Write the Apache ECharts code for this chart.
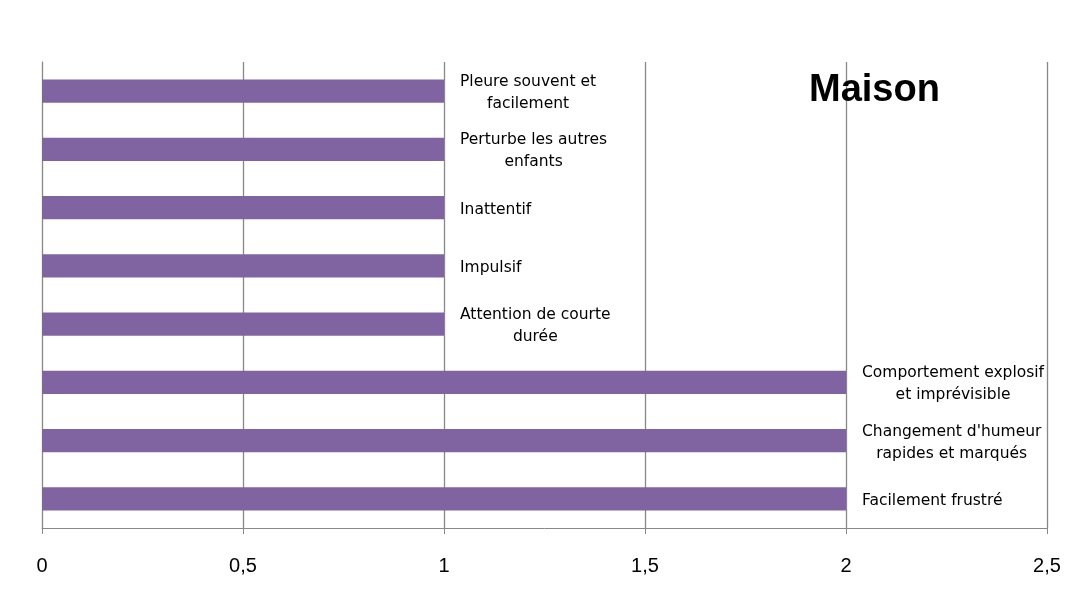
<!DOCTYPE html>
<html>
<head>
<meta charset="utf-8">
<script src="https://cdn.jsdelivr.net/npm/echarts@6/dist/echarts.min.js"></script>
<style>html,body{margin:0;padding:0;background:#fff}#c{width:1091px;height:612px}</style>
</head>
<body>
<div id="c"></div>
<script>
const categories = [
  'Pleure souvent et\nfacilement',
  'Perturbe les autres\nenfants',
  'Inattentif',
  'Impulsif',
  'Attention de courte\ndurée',
  'Comportement explosif\net imprévisible',
  "Changement d'humeur\nrapides et marqués",
  'Facilement frustré'
];
const values = [1, 1, 1, 1, 1, 2, 2, 2];
const xTicks = [0, 0.5, 1, 1.5, 2, 2.5];
const titleText = 'Maison';

const labelFontFamily = 'DejaVu Sans';
const labelFontSize = 15.5;
const cnv = document.createElement('canvas').getContext('2d');
cnv.font = labelFontSize + 'px "' + labelFontFamily + '"';
function maxW(t){ return Math.max(...t.split('\n').map(s => cnv.measureText(s).width)); }

const data = values.map((v, i) => ({
  value: v,
  label: { distance: 16 + maxW(categories[i]) / 2 }
}));

const chart = echarts.init(document.getElementById('c'), null, {renderer: 'canvas'});
chart.setOption({
  animation: false,
  backgroundColor: '#fff',
  title: {
    text: titleText, left: 804, top: 67,
    textStyle: {fontFamily: 'Liberation Sans', fontWeight: 'bold', fontSize: 38, color: '#000'}
  },
  grid: {left: 42, right: 44, top: 62, bottom: 84, containLabel: false},
  xAxis: {
    type: 'value', min: xTicks[0], max: xTicks[xTicks.length - 1], interval: 0.5,
    axisLine: {show: true, lineStyle: {color: '#888', width: 1}},
    axisTick: {show: true, length: 6, lineStyle: {color: '#888'}},
    splitLine: {show: true, lineStyle: {color: '#888', width: 1.3}},
    axisLabel: {
      margin: 28, color: '#000', fontFamily: 'Liberation Sans', fontSize: 20,
      formatter: v => String(v).replace('.', ',')
    }
  },
  yAxis: {
    type: 'category', data: categories, inverse: true,
    axisLine: {show: true, lineStyle: {color: '#888', width: 1}},
    axisTick: {show: false},
    axisLabel: {show: false},
    splitLine: {show: false}
  },
  series: [{
    type: 'bar', data: data, barWidth: '40%',
    itemStyle: {color: '#8064a2'},
    label: {
      show: true, position: 'right', align: 'center', verticalAlign: 'middle',
      offset: [0, 2],
      formatter: p => p.name,
      color: '#000', fontFamily: labelFontFamily, fontSize: labelFontSize, lineHeight: 22
    }
  }]
});
</script>
</body>
</html>
